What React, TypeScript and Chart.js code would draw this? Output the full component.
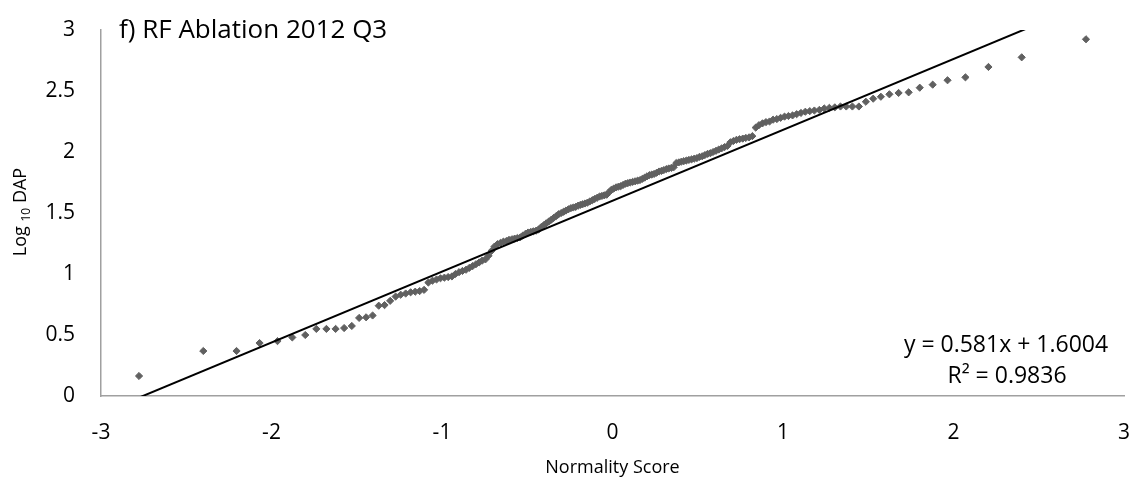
import React, { useEffect, useRef } from "react";
import { Chart, registerables } from "chart.js";

Chart.register(...registerables);

// Normality scores (x)
const normalityScores = [
  -2.777, -2.400, -2.205, -2.070, -1.965, -1.878, -1.802, -1.737, -1.678, -1.624,
  -1.574, -1.529, -1.486, -1.445, -1.407, -1.371, -1.337, -1.304, -1.272, -1.242,
  -1.213, -1.184, -1.157, -1.131, -1.105, -1.080, -1.056, -1.032, -1.009, -0.986,
  -0.964, -0.942, -0.921, -0.900, -0.880, -0.859, -0.840, -0.820, -0.801, -0.782,
  -0.764, -0.745, -0.727, -0.709, -0.692, -0.674, -0.657, -0.640, -0.623, -0.607,
  -0.590, -0.574, -0.558, -0.542, -0.526, -0.510, -0.495, -0.479, -0.464, -0.448,
  -0.433, -0.418, -0.403, -0.389, -0.374, -0.359, -0.345, -0.330, -0.316, -0.301,
  -0.287, -0.273, -0.259, -0.244, -0.230, -0.216, -0.202, -0.189, -0.175, -0.161,
  -0.147, -0.133, -0.118, -0.104, -0.090, -0.076, -0.062, -0.048, -0.034, -0.021,
  -0.007,
  0.007, 0.021, 0.034, 0.048, 0.062, 0.076, 0.090, 0.104, 0.118, 0.133,
  0.147, 0.161, 0.175, 0.189, 0.202, 0.216, 0.230, 0.244, 0.259, 0.273,
  0.287, 0.301, 0.316, 0.330, 0.345, 0.359, 0.374, 0.389, 0.403, 0.418,
  0.433, 0.448, 0.464, 0.479, 0.495, 0.510, 0.526, 0.542, 0.558, 0.574,
  0.590, 0.607, 0.623, 0.640, 0.657, 0.674, 0.692, 0.709, 0.727, 0.745,
  0.764, 0.782, 0.801, 0.820, 0.840, 0.859, 0.880, 0.900, 0.921, 0.942,
  0.964, 0.986, 1.009, 1.032, 1.056, 1.080, 1.105, 1.131, 1.157, 1.184,
  1.213, 1.242, 1.272, 1.304, 1.337, 1.371, 1.407, 1.445, 1.486, 1.529,
  1.574, 1.624, 1.678, 1.737, 1.802, 1.878, 1.965, 2.070, 2.205, 2.400,
  2.777,
];

// Log10 DAP (y)
const log10Dap = [
  0.164, 0.369, 0.369, 0.434, 0.450, 0.480, 0.500, 0.550, 0.550, 0.550,
  0.557, 0.574, 0.640, 0.645, 0.660, 0.740, 0.745, 0.780, 0.815, 0.830,
  0.840, 0.850, 0.855, 0.860, 0.870, 0.930, 0.945, 0.955, 0.965, 0.970,
  0.975, 0.980, 1.000, 1.015, 1.025, 1.035, 1.050, 1.065, 1.080, 1.095,
  1.110, 1.120, 1.150, 1.190, 1.225, 1.245, 1.255, 1.265, 1.270, 1.280,
  1.285, 1.290, 1.295, 1.300, 1.315, 1.330, 1.340, 1.345, 1.350, 1.355,
  1.365, 1.385, 1.400, 1.415, 1.430, 1.445, 1.460, 1.475, 1.490, 1.500,
  1.510, 1.520, 1.530, 1.540, 1.545, 1.550, 1.560, 1.566, 1.572, 1.578,
  1.585, 1.595, 1.605, 1.615, 1.625, 1.635, 1.640, 1.645, 1.650, 1.670,
  1.690,
  1.700, 1.710, 1.715, 1.720, 1.730, 1.740, 1.745, 1.750, 1.755, 1.760,
  1.765, 1.770, 1.780, 1.790, 1.800, 1.810, 1.815, 1.820, 1.830, 1.840,
  1.845, 1.852, 1.860, 1.865, 1.870, 1.875, 1.910, 1.915, 1.920, 1.925,
  1.930, 1.935, 1.940, 1.945, 1.950, 1.960, 1.965, 1.975, 1.985, 1.990,
  2.000, 2.010, 2.020, 2.030, 2.040, 2.050, 2.080, 2.090, 2.100, 2.105,
  2.110, 2.115, 2.120, 2.130, 2.200, 2.220, 2.235, 2.245, 2.250, 2.265,
  2.270, 2.280, 2.290, 2.295, 2.300, 2.310, 2.320, 2.330, 2.335, 2.340,
  2.345, 2.357, 2.362, 2.366, 2.373, 2.373, 2.373, 2.373, 2.412, 2.437,
  2.453, 2.473, 2.484, 2.489, 2.527, 2.552, 2.588, 2.612, 2.697, 2.776,
  2.924,
];

const xRange = [-3, 3];
const yRange = [0, 3];
const xStep = 1;
const yStep = 0.5;

const trendSlope = 0.581;
const trendIntercept = 1.6004;
const rSquared = 0.9836;

const chartTitle = "f) RF Ablation 2012 Q3";
const xAxisTitle = "Normality Score";
const yAxisTitleMain = "Log";
const yAxisTitleSub = "10";
const yAxisTitleRest = "DAP";

const FONT = '"Open Sans", sans-serif';

export default function App() {
  const canvasRef = useRef<HTMLCanvasElement | null>(null);

  useEffect(() => {
    const canvas = canvasRef.current;
    if (!canvas) return;

    const points = normalityScores.map((x, i) => ({ x, y: log10Dap[i] }));
    const xMin = Math.min(...normalityScores);
    const xMax = Math.max(...normalityScores);
    const trend = [xMin, xMax].map((x) => ({ x, y: trendSlope * x + trendIntercept }));

    const textPlugin = {
      id: "textPlugin",
      afterDraw(chart: any) {
        const ctx = chart.ctx as CanvasRenderingContext2D;
        const area = chart.chartArea;
        ctx.save();
        ctx.fillStyle = "#000000";
        ctx.textBaseline = "alphabetic";

        // Title inside the top-left
        ctx.font = `26px ${FONT}`;
        ctx.textAlign = "left";
        ctx.fillText(chartTitle, 119, 38);

        // X axis title
        ctx.font = `18px ${FONT}`;
        ctx.textAlign = "center";
        ctx.fillText(xAxisTitle, (area.left + area.right) / 2, 473);

        // Y axis title with subscript
        const mainFont = `18px ${FONT}`;
        const subFont = `12px ${FONT}`;
        ctx.font = mainFont;
        const wMain = ctx.measureText(yAxisTitleMain + " ").width;
        const wRest = ctx.measureText(" " + yAxisTitleRest).width;
        ctx.font = subFont;
        const wSub = ctx.measureText(yAxisTitleSub).width;
        const total = wMain + wSub + wRest;
        ctx.translate(26, 212);
        ctx.rotate(-Math.PI / 2);
        ctx.textAlign = "left";
        let cx = -total / 2;
        ctx.font = mainFont;
        ctx.fillText(yAxisTitleMain + " ", cx, 0);
        cx += wMain;
        ctx.font = subFont;
        ctx.fillText(yAxisTitleSub, cx, 4);
        cx += wSub;
        ctx.font = mainFont;
        ctx.fillText(" " + yAxisTitleRest, cx, 0);
        ctx.setTransform(1, 0, 0, 1, 0, 0);

        // Trendline equation
        ctx.font = `23px ${FONT}`;
        ctx.textAlign = "center";
        ctx.fillText(`y = ${trendSlope}x + ${trendIntercept}`, 1006, 352);
        ctx.fillText(`R² = ${rSquared}`, 1007, 383);
        ctx.restore();
      },
    };

    const chart = new Chart(canvas, {
      type: "scatter",
      data: {
        datasets: [
          {
            type: "line",
            label: "Trend",
            data: trend,
            borderColor: "#000000",
            borderWidth: 2,
            pointRadius: 0,
            fill: false,
            tension: 0,
          },
          {
            type: "scatter",
            label: "Log10 DAP",
            data: points,
            pointStyle: "rectRot",
            pointRadius: 3.6,
            pointBorderWidth: 1,
            backgroundColor: "#606060",
            borderColor: "#606060",
          },
        ],
      },
      options: {
        responsive: false,
        animation: false,
        devicePixelRatio: 1,
        events: [],
        layout: { padding: { left: 0, top: 30, right: 14, bottom: 0 } },
        plugins: {
          legend: { display: false },
          tooltip: { enabled: false },
          title: { display: false },
        },
        scales: {
          x: {
            type: "linear",
            min: xRange[0],
            max: xRange[1],
            grid: { display: false, drawTicks: true, tickLength: 24 },
            border: { display: true, color: "#a0a0a0", width: 1.5 },
            ticks: {
              stepSize: xStep,
              padding: 0,
              color: "#000000",
              font: { family: FONT, size: 21 },
              maxRotation: 0,
              callback: (v: any) => String(Number(v)),
            },
            afterFit: (s: any) => {
              s.height = 89;
            },
          },
          y: {
            type: "linear",
            min: yRange[0],
            max: yRange[1],
            grid: { display: false, drawTicks: true, tickLength: 26 },
            border: { display: true, color: "#a0a0a0", width: 1.5 },
            ticks: {
              stepSize: yStep,
              padding: 0,
              color: "#000000",
              font: { family: FONT, size: 21 },
              callback: (v: any) => String(Number(v)),
            },
            afterFit: (s: any) => {
              s.width = 101;
            },
          },
        },
      },
      plugins: [textPlugin],
    });

    return () => chart.destroy();
  }, []);

  return (
    <div style={{ position: "fixed", left: 0, top: 0, width: 1138, height: 485, background: "#ffffff" }}>
      <canvas ref={canvasRef} width={1138} height={485} style={{ display: "block" }} />
    </div>
  );
}
